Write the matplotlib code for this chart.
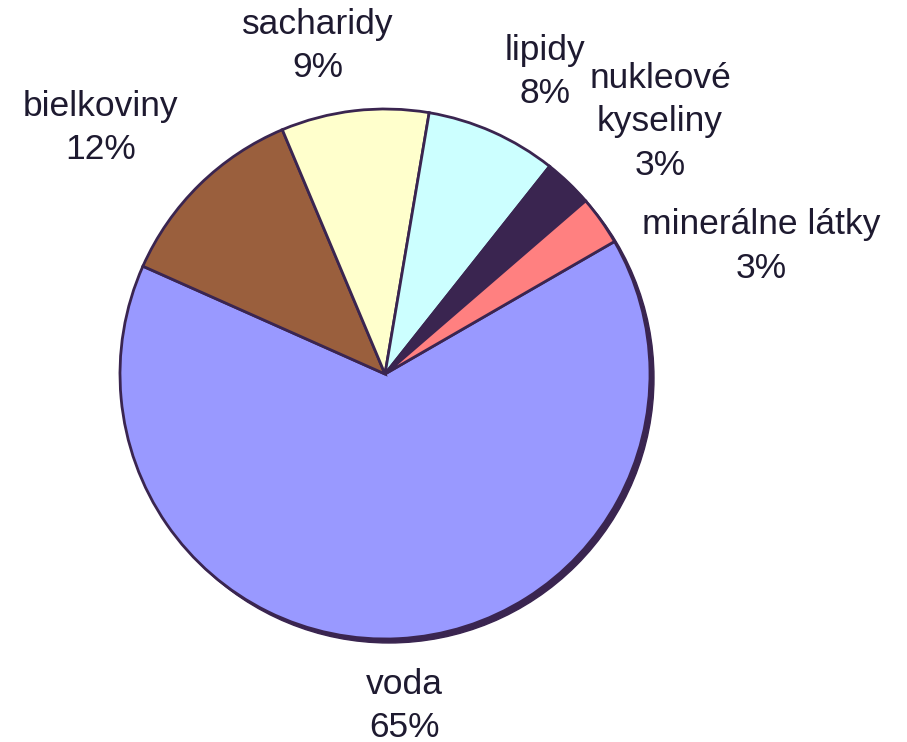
import matplotlib
matplotlib.use('Agg')
import matplotlib.pyplot as plt
from matplotlib.patches import Circle
import numpy as np

# Composition of the cell (percent)
labels = ['voda', 'bielkoviny', 'sacharidy', 'lipidy', 'nukleové\nkyseliny', 'minerálne látky']
values = [65, 12, 9, 8, 3, 3]
colors = ['#9999FF', '#9A5F3D', '#FFFFCC', '#CCFFFF', '#3A2550', '#FF8080']

# label anchor (radius, angle in degrees) - layout only
label_pos = [(1.255, -86.6), (1.42, 139.2), (1.263, 101.5),
             (1.29, 62.0), (1.408, 42.5), (1.50, 18.7)]

edge = '#3A2550'
txt_color = '#1E1A30'

fig = plt.figure(figsize=(9.07, 7.42), dpi=100)
ax = fig.add_axes([0, 0, 1, 1])

# shadow behind the pie
ax.add_patch(Circle((0.015, -0.015), 1.0, color=edge, zorder=0))

wedges, _ = ax.pie(values, colors=colors, startangle=30, counterclock=False,
                   radius=1.0, center=(0, 0), frame=True,
                   wedgeprops=dict(edgecolor=edge, linewidth=2))
ax.set_xlim(-385 / 265, (907 - 385) / 265)
ax.set_ylim(-368 / 265, (742 - 368) / 265)
ax.set_aspect('auto')
ax.axis('off')

for lab, v, (r, a) in zip(labels, values, label_pos):
    x = r * np.cos(np.radians(a))
    y = r * np.sin(np.radians(a))
    ax.text(x, y, f'{lab}\n{v}%', ha='center', va='center', fontsize=25.5,
            family='Liberation Sans', color=txt_color, linespacing=1.4)

plt.savefig('out.png', dpi=100)
